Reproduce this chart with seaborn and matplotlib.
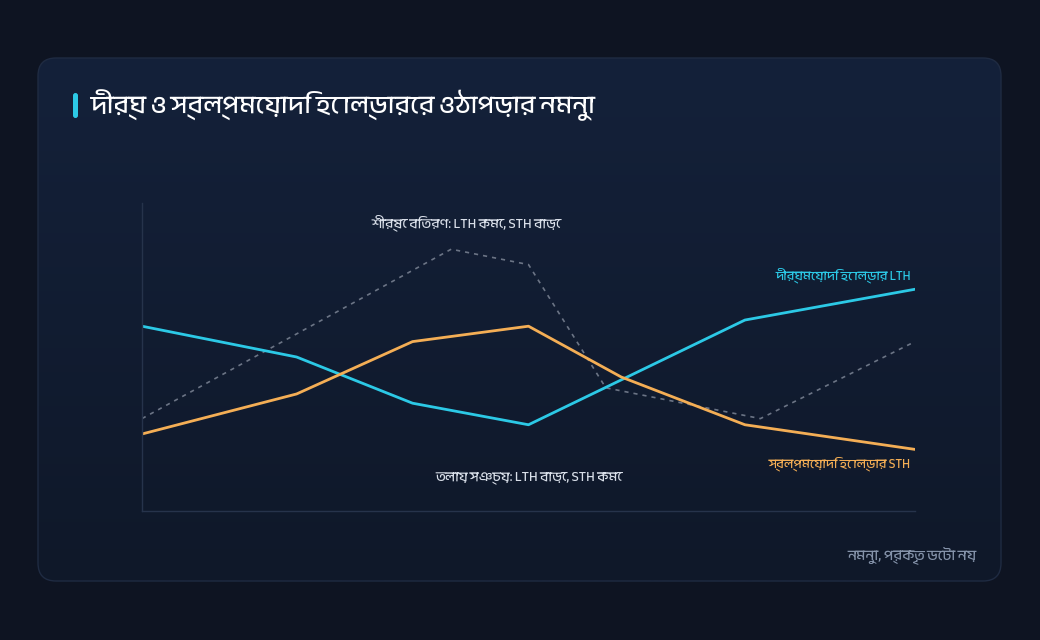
import numpy as np
import pandas as pd
import matplotlib
matplotlib.use("Agg")
import matplotlib.pyplot as plt
import seaborn as sns
from matplotlib import font_manager
from matplotlib.ft2font import FT2Font
from matplotlib.patches import FancyBboxPatch

# --- data ---
lth_x = [0, 2, 3.5, 5, 7.8, 10]
lth_y = [60, 50, 35, 28, 62, 72]
sth_x = [0, 2, 3.5, 5, 6.2, 7.8, 10]
sth_y = [25, 38, 55, 60, 43.5, 28, 20]
price_x = [0, 4, 5, 6, 8, 10]
price_y = [30, 85, 80, 40, 30, 55]

title = "দীর্ঘ ও স্বল্পমেয়াদি হোল্ডারের ওঠাপড়ার নমুনা"
lth_label = "দীর্ঘমেয়াদি হোল্ডার LTH"
sth_label = "স্বল্পমেয়াদি হোল্ডার STH"
top_note = "শীর্ষে বিতরণ: LTH কমে, STH বাড়ে"
bottom_note = "তলায় সঞ্চয়: LTH বাড়ে, STH কমে"
footer = "নমুনা, প্রকৃত ডেটা নয়"

CYAN = "#2cc9e6"
ORANGE = "#f4ae55"
GREY = "#6b7485"

sns.set_theme(style="white")


def find_bengali_font():
    found = []
    for f in font_manager.fontManager.ttflist:
        try:
            cmap = FT2Font(f.fname).get_charmap()
        except Exception:
            continue
        if 0x09A6 in cmap:
            found.append(f.name)
    for n in found:
        if "Bengali" in n or "Bangla" in n:
            return n
    return found[0] if found else None


bn = find_bengali_font()
families = [bn, "DejaVu Sans"] if bn else ["DejaVu Sans"]
plt.rcParams["font.family"] = families

fig = plt.figure(figsize=(10.4, 6.4), dpi=100)
fig.patch.set_facecolor("#0e1422")

# background card
bg = fig.add_axes([0, 0, 1, 1])
bg.set_xlim(0, 1040)
bg.set_ylim(640, 0)
bg.axis("off")
card = FancyBboxPatch((38, 58), 963, 523, boxstyle="round,pad=0,rounding_size=18",
                      facecolor="none", edgecolor="#1f2b42", linewidth=1.0, zorder=3)
bg.add_patch(card)
grad = np.linspace(0, 1, 256).reshape(-1, 1)
cmap = matplotlib.colors.LinearSegmentedColormap.from_list("card", ["#14213a", "#0f1829"])
im = bg.imshow(grad, extent=(38, 1001, 581, 58), cmap=cmap, aspect="auto", zorder=1)
im.set_clip_path(card)
bg.set_xlim(0, 1040)
bg.set_ylim(640, 0)

# title + accent bar
bg.add_patch(FancyBboxPatch((73, 93), 5, 25, boxstyle="round,pad=0,rounding_size=2.5",
                            facecolor=CYAN, edgecolor="none", zorder=4))
bg.text(90, 105, title, color="white", fontsize=18.5, fontweight="bold",
        va="center", ha="left", zorder=4)
bg.text(977, 555, footer, color="#8593aa", fontsize=10.5, va="center", ha="right", zorder=4)

# chart
ax = fig.add_axes([142 / 1040, 1 - 511 / 640, 773 / 1040, 308 / 640])
ax.set_facecolor("none")
df_lth = pd.DataFrame({"x": lth_x, "y": lth_y})
df_sth = pd.DataFrame({"x": sth_x, "y": sth_y})
df_price = pd.DataFrame({"x": price_x, "y": price_y})

sns.lineplot(data=df_price, x="x", y="y", ax=ax, color=GREY, linewidth=1.2,
             linestyle=(0, (2.5, 3)), estimator=None, sort=False)
sns.lineplot(data=df_lth, x="x", y="y", ax=ax, color=CYAN, linewidth=2.0,
             estimator=None, sort=False)
sns.lineplot(data=df_sth, x="x", y="y", ax=ax, color=ORANGE, linewidth=2.0,
             estimator=None, sort=False)

ax.set_xlim(0, 10)
ax.set_ylim(0, 100)
ax.set_xticks([])
ax.set_yticks([])
ax.set_xlabel("")
ax.set_ylabel("")
for s in ["top", "right"]:
    ax.spines[s].set_visible(False)
for s in ["left", "bottom"]:
    ax.spines[s].set_color("#26334b")
    ax.spines[s].set_linewidth(1.0)

ax.text(4.2, 93.5, top_note, color="#d9dfe9", fontsize=9.9, ha="center", va="center")
ax.text(5.0, 11.0, bottom_note, color="#d9dfe9", fontsize=9.9, ha="center", va="center")
ax.text(9.95, 76.5, lth_label, color=CYAN, fontsize=9.2, ha="right", va="center")
ax.text(9.95, 15.5, sth_label, color=ORANGE, fontsize=9.2, ha="right", va="center")

fig.savefig("out.png", dpi=100, facecolor=fig.get_facecolor())
